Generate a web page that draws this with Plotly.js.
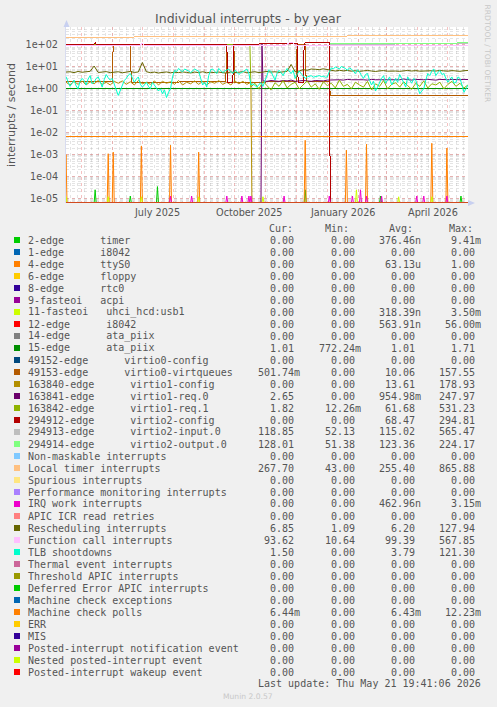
<!DOCTYPE html>
<html><head><meta charset="utf-8">
<script src="https://cdn.plot.ly/plotly-3.0.1.min.js"></script>
<style>html,body{margin:0;padding:0;background:#F0F0F0;} #chart{width:497px;height:707px;}
#chart g[class*="tracecrisp"] path.js-line{shape-rendering:crispEdges;}</style>
</head><body><div id="chart"></div>
<script>
// ---------- axis data ----------
const rangeStart = '2025-04-16';
const rangeEnd = '2026-05-21';
const monthStarts = ['2025-05-01','2025-06-01','2025-07-01','2025-08-01','2025-09-01','2025-10-01','2025-11-01','2025-12-01','2026-01-01','2026-02-01','2026-03-01','2026-04-01','2026-05-01'];
const monthLabelDates = ['2025-07-16','2025-10-16','2026-01-16','2026-04-16'];
const monthLabels = ['July 2025','October 2025','January 2026','April 2026'];
const yTickVals = [1e-5,1e-4,1e-3,1e-2,1e-1,1,10,100];
const yTickText = ['1e-05','1e-04','1e-03','1e-02','1e-01','1e+00','1e+01','1e+02'];

// ---------- legend data ----------
const seriesLabels = ['2-edge      timer','1-edge      i8042','4-edge      ttyS0','6-edge      floppy','8-edge      rtc0','9-fasteoi   acpi','11-fasteoi   uhci_hcd:usb1','12-edge      i8042','14-edge      ata_piix','15-edge      ata_piix','49152-edge      virtio0-config','49153-edge      virtio0-virtqueues','163840-edge      virtio1-config','163841-edge      virtio1-req.0','163842-edge      virtio1-req.1','294912-edge      virtio2-config','294913-edge      virtio2-input.0','294914-edge      virtio2-output.0','Non-maskable interrupts','Local timer interrupts','Spurious interrupts','Performance monitoring interrupts','IRQ work interrupts','APIC ICR read retries','Rescheduling interrupts','Function call interrupts','TLB shootdowns','Thermal event interrupts','Threshold APIC interrupts','Deferred Error APIC interrupts','Machine check exceptions','Machine check polls','ERR','MIS','Posted-interrupt notification event','Nested posted-interrupt event','Posted-interrupt wakeup event'];
const seriesColors = ['#00CC00','#0066B3','#FF8000','#FFCC00','#330099','#990099','#CCFF00','#FF0000','#808080','#008F00','#00487D','#B35A00','#B38F00','#6B006B','#8FB300','#B30000','#BEBEBE','#80FF80','#80C9FF','#FFC080','#FFE680','#AA80FF','#EE00CC','#FF8080','#666600','#FFBFFF','#00FFCC','#CC6699','#999900','#00CC00','#0066B3','#FF8000','#FFCC00','#330099','#990099','#CCFF00','#FF0000'];
const curVals = ['0.00','0.00','0.00','0.00','0.00','0.00','0.00','0.00','0.00','1.01','0.00','501.74m','0.00','2.65','1.82','0.00','118.85','128.01','0.00','267.70','0.00','0.00','0.00','0.00','6.85','93.62','1.50','0.00','0.00','0.00','0.00','6.44m','0.00','0.00','0.00','0.00','0.00'];
const minVals = ['0.00','0.00','0.00','0.00','0.00','0.00','0.00','0.00','0.00','772.24m','0.00','0.00','0.00','0.00','12.26m','0.00','52.13','51.38','0.00','43.00','0.00','0.00','0.00','0.00','1.09','10.64','0.00','0.00','0.00','0.00','0.00','0.00','0.00','0.00','0.00','0.00','0.00'];
const avgVals = ['376.46n','0.00','63.13u','0.00','0.00','0.00','318.39n','563.91n','0.00','1.01','0.00','10.06','13.61','954.98m','61.68','68.47','115.02','123.36','0.00','255.40','0.00','0.00','462.96n','0.00','6.20','99.39','3.79','0.00','0.00','0.00','0.00','6.43m','0.00','0.00','0.00','0.00','0.00'];
const maxVals = ['9.41m','0.00','1.00','0.00','0.00','0.00','3.50m','56.00m','0.00','1.71','0.00','157.55','178.93','247.97','531.23','294.81','565.47','224.17','0.00','865.88','0.00','0.00','3.15m','0.00','127.94','567.85','121.30','0.00','0.00','0.00','0.00','12.23m','0.00','0.00','0.00','0.00','0.00'];

// ---------- series data (interrupts / second) ----------
const timerSpikeDates = ['2025-05-15','2025-06-19','2025-07-16','2025-12-10','2026-02-23','2026-05-14'];
const timerSpikeVals  = [2.5e-5,1.3e-5,3.5e-5,2.5e-5,1.3e-5,1.3e-5];
const ttySpikeDates = ['2025-04-16','2025-05-28','2025-06-02','2025-06-30','2025-07-29','2025-08-26','2025-12-10','2026-01-20','2026-02-09','2026-04-15','2026-04-30'];
const ttySpikeVals  = [1.0e-3,1.1e-3,1.3e-3,2.5e-3,2.7e-3,1.3e-3,4.5e-3,1.6e-3,3.0e-3,3.3e-3,2.0e-3];
const usbSpikeDates = ['2025-04-16','2025-05-28','2025-06-30','2025-08-26','2025-10-29','2026-01-30','2026-03-13','2026-04-15'];
const usbSpikeVals  = [1.2e-5,1.2e-5,1.2e-5,1.2e-5,1.2e-5,2.5e-5,1.2e-5,1.2e-5];
const iwiSpikeDates = ['2025-07-29','2025-08-19','2025-09-23','2025-10-08','2025-10-15','2025-10-17','2025-11-19','2026-01-03','2026-01-26','2026-02-03','2026-02-09','2026-02-24','2026-03-31','2026-04-07','2026-04-30'];
const iwiSpikeVals  = [1.3e-5,1.3e-5,1.3e-5,1.3e-5,1.3e-5,1.3e-5,1.3e-5,1.3e-5,1.3e-5,2.5e-5,1.3e-5,1.3e-5,1.3e-5,1.3e-5,1.3e-5];

const ataDates = ['2025-04-16','2026-05-21'];
const ataVals  = [1.0,1.01];
const virtqDates = ['2025-04-16','2025-06-01','2025-06-02','2025-06-19','2025-06-20','2025-09-22','2025-09-23','2025-09-30','2025-10-01','2025-12-01','2025-12-02','2025-12-10','2025-12-11','2026-01-03','2026-01-04','2026-05-21'];
const virtqVals  = [2.1,2.1,110,110,2.0,2.1,110,110,2.0,2.1,110,110,2.1,2.1,0.5,0.5];
const v1ConfigStart = '2025-04-16';
const v1ConfigVals = [2.0,1.5,2.2,1.6,2.3,1.5,2.1,1.7,2.4,1.6,2.0,1.5,2.2,1.8,2.3,1.6,2.1,1.5,2.4,1.7,2.0,1.6,2.3,1.5,2.2,1.8,2.1,1.6,2.4,1.5,2.0,1.7,2.3,1.6,2.2,1.5,2.1,1.8,2.4,1.6,2.0,1.5,2.3,1.7,2.2,1.6,2.0];
const v1ConfigEndDates = ['2025-10-18','2026-05-21'];
const v1ConfigEndVals = [0,0];
const v1Req0HeadDates = ['2025-04-16','2025-10-27','2025-10-28'];
const v1Req0HeadVals = [0,0,110];
const v1Req0TailStart = '2025-10-29';
const v1Req0TailVals = [2.3,2.2,2.4,2.3,2.2,2.4,2.3,2.5,2.2,2.3,2.4,2.3,2.2,2.4,2.3,2.3,2.5,2.6,2.7,2.6,2.5,2.7,2.6,2.6,2.8,2.6,2.5,2.7,2.6,2.6,2.7,2.5,2.6,2.7,2.6,2.8,2.6,2.5,2.7,2.6,2.6,2.7,2.6,2.5,2.7,2.6,2.6,2.7,2.6,2.6,2.7,2.65];
const v1Req1HeadDates = ['2025-04-16','2025-10-16'];
const v1Req1HeadVals = [105,105];
const v1Req1TailStart = '2025-10-17';
const v1Req1TailVals = [1.2,1.8,1.0,2.2,1.4,0.9,1.9,1.3,2.4,1.1,1.6,2.0,1.0,1.5,2.3,1.2,1.7,0.95,2.1,1.4,1.8,1.1,2.5,1.3,1.6,1.0,2.0,1.5,1.2,2.2,0.9,1.7,1.3,2.4,1.0,1.6,1.9,1.2,2.1,1.4,0.95,1.8,1.3,2.3,1.1,1.7,1.5,2.0,1.0,1.6,2.2,1.3,1.8,1.1,1.5];
const v2ConfigDates = ['2025-04-16','2025-05-14','2025-05-15','2025-05-16','2025-09-23','2025-09-24','2025-09-29','2025-09-30','2025-12-02','2025-12-03','2025-12-08','2025-12-09','2025-12-12','2026-01-03','2026-01-04','2026-05-21'];
const v2ConfigVals  = [108,110,130,110,110,2,2,110,112,2,2,120,128,128,0,0];
const v2InputDates = ['2026-01-04','2026-03-01','2026-05-21'];
const v2InputVals  = [108,112,114];
const v2OutputDates = ['2026-01-04','2026-03-01','2026-03-08','2026-05-21'];
const v2OutputVals  = [112,114,122,124];
const locDates = ['2025-04-16','2025-06-29','2025-07-01','2025-07-03','2025-08-07','2025-08-10','2025-09-29','2025-10-01','2026-01-04','2026-05-21'];
const locVals  = [225,225,240,226,228,238,240,250,258,264];
const calDates = ['2025-04-16','2025-06-29','2025-07-01','2025-07-03','2025-11-21','2025-11-24','2025-11-28','2025-11-30','2026-01-03','2026-01-04','2026-05-21'];
const calVals  = [98,98,120,98,98,125,124,98,98,92,93];
const mcpDates = ['2025-04-16','2026-05-21'];
const mcpVals  = [0.0064,0.0064];
const zeroDates = ['2025-04-16','2026-05-21'];
const zeroVals  = [0,0];

const resStep = 4;
const resVals = [5.8,6.0,5.5,6.2,5.7,5.9,6.3,11,5.6,5.8,6.1,5.5,5.7,6.0,5.4,5.8,6.2,5.6,5.9,16,
 6.0,5.5,5.8,5.3,5.6,5.9,5.4,5.7,5.5,5.9,5.6,5.3,5.8,5.5,6.0,5.4,5.7,5.5,5.8,5.6,5.2,5.9,5.5,5.7,6.1,5.4,5.8,6.0,5.5,5.7,6.2,5.8,6.0,5.6,5.9,6.3,
 13,6.0,6.5,7.5,7.0,8.0,7.8,7.5,8.2,7.6,
 6.8,6.5,7.0,6.6,6.9,6.4,6.7,6.3,6.6,6.9,6.5,6.2,6.6,6.8,6.4,6.7,6.5,6.3,6.6,6.9,6.5,6.8,6.4,6.6,7.0,6.7,6.5,6.9,6.6,6.4,6.8,6.6,6.3,6.7,6.9];
const tlbStep = 2;
const tlbVals = [3.6,2.0,1.3,1.8,2.5,1.4,1.0,2.2,3.0,2.4,1.5,2.8,4.0,1.7,2.0,3.0,3.5,2.2,1.2,2.6,
 4.5,3.2,2.5,3.0,1.8,0.9,0.5,0.8,1.5,2.4,3.0,4.2,5.0,3.0,2.0,2.8,3.5,1.6,1.2,1.5,
 2.0,1.3,1.0,2.0,1.5,1.1,0.8,1.0,0.6,0.9,0.4,0.7,1.0,3.5,7.0,6.0,8.5,7.0,6.0,8.0,
 7.5,6.5,5.5,7.0,8.0,7.0,6.5,3.0,1.5,2.0,1.2,4.0,7.5,8.0,6.0,5.0,8.5,7.0,5.5,6.5,
 7.0,8.0,6.0,5.0,7.0,6.0,4.5,5.5,6.0,7.0,8.0,5.0,1.5,1.7,1.4,1.2,1.6,1.9,1.3,2.5,
 4.0,7.5,6.0,4.0,2.5,5.0,7.0,5.5,4.0,6.0,8.5,6.5,5.0,7.0,3.0,4.5,6.5,5.0,4.0,3.0,
 3.5,3.8,4.0,3.4,3.5,3.9,4.0,3.6,3.8,3.4,3.5,6.0,9.0,8.0,10.0,9.0,8.0,10.5,9.5,8.5,
 7.0,9.0,8.0,6.5,5.0,7.5,6.0,4.0,3.0,4.5,5.0,2.5,1.5,2.2,0.8,1.2,2.0,3.0,4.0,1.8,
 2.5,3.5,1.5,2.0,3.0,2.0,4.5,3.0,2.0,1.2,3.5,2.5,1.8,3.0,2.5,1.2,0.6,0.8,1.0,2.5,
 5.0,4.0,6.5,8.0,4.0,5.5,7.0,4.5,5.0,3.0,2.0,2.8,3.5,1.8,2.0,3.5,3.0,1.5,0.7,1.0,
 1.5];
const noisyStep = 4;

// ---------- builders ----------
function addDays(ds, n){ return new Date(Date.parse(ds+'T00:00:00Z') + n*86400000).toISOString().slice(0,10); }
function regular(start, step, vals){ return {x: vals.map((v,i)=>addDays(start,i*step)), y: vals.slice()}; }
function pairs(dates, vals, crisp){ return {x: dates.slice(), y: vals.slice(), crisp: !!crisp}; }
function spikes(dates, vals){
  const x=[addDays(rangeStart,-3)], y=[0];
  dates.forEach((d,i)=>{ x.push(addDays(d,-1),d,addDays(d,1)); y.push(0,vals[i],0); });
  x.push(rangeEnd); y.push(0);
  return {x,y};
}
function join(){ const r={x:[],y:[]}; for(const s of arguments){ r.x=r.x.concat(s.x); r.y=r.y.concat(s.y);} return r; }
const zero = () => pairs(zeroDates, zeroVals);

const seriesData = [
  spikes(timerSpikeDates, timerSpikeVals),
  zero(),
  spikes(ttySpikeDates, ttySpikeVals),
  zero(), zero(), zero(),
  spikes(usbSpikeDates, usbSpikeVals),
  zero(), zero(),
  pairs(ataDates, ataVals, true),
  zero(),
  pairs(virtqDates, virtqVals, true),
  join(regular(v1ConfigStart, noisyStep, v1ConfigVals), pairs(v1ConfigEndDates, v1ConfigEndVals)),
  join(pairs(v1Req0HeadDates, v1Req0HeadVals), regular(v1Req0TailStart, noisyStep, v1Req0TailVals)),
  join(pairs(v1Req1HeadDates, v1Req1HeadVals), regular(v1Req1TailStart, noisyStep, v1Req1TailVals)),
  pairs(v2ConfigDates, v2ConfigVals, true),
  pairs(v2InputDates, v2InputVals, true),
  pairs(v2OutputDates, v2OutputVals, true),
  zero(),
  pairs(locDates, locVals, true),
  zero(), zero(),
  spikes(iwiSpikeDates, iwiSpikeVals),
  zero(),
  regular(rangeStart, resStep, resVals),
  pairs(calDates, calVals, true),
  regular(rangeStart, tlbStep, tlbVals),
  zero(), zero(), zero(), zero(),
  pairs(mcpDates, mcpVals, true),
  zero(), zero(), zero(), zero(), zero()
];

// ---------- geometry ----------
const W=497, H=707, L=66, R=468, T=27, B=203;
const yMinLog = -5.205, yMaxLog = 2.82;
const FLOOR = Math.pow(10, yMinLog);
const px = x => (x-L)/(R-L);
const py = y => (B-y)/(B-T);

const traces = seriesData.map((s,i)=>({
  type:'scatter', mode:'lines', x:s.x, uid: (s.crisp ? 'crisp' : 'soft') + i,
  y:s.y.map(v => v===null ? null : (v<=0 ? FLOOR : v)),
  line:{color:seriesColors[i], width:1},
  hoverinfo:'skip', showlegend:false, connectgaps:false
}));

const txt = '#555555';
const mono = 'DejaVu Sans Mono';
const annotations = [];
const shapes = [];

monthLabelDates.forEach((d,i)=>annotations.push({xref:'x', yref:'paper', x:d, y:py(212.5), text:monthLabels[i], showarrow:false, xanchor:'center', yanchor:'middle', font:{family:'DejaVu Sans', size:9.7, color:txt}}));
annotations.push({xref:'paper', yref:'paper', x:px(11), y:py(115), text:'interrupts / second', textangle:-90, showarrow:false, xanchor:'center', yanchor:'middle', font:{family:'DejaVu Sans', size:11, color:txt}});
annotations.push({xref:'paper', yref:'paper', x:px(487.5), y:py(54), text:'RRDTOOL / TOBI OETIKER', textangle:90, showarrow:false, xanchor:'center', yanchor:'middle', font:{family:'DejaVu Sans', size:7.6, color:'#C8C8C8'}});
[['Cur:',267],['Min:',323],['Avg:',387],['Max:',447]].forEach(h=>annotations.push({xref:'paper', yref:'paper', x:px(h[1]), y:py(228), text:h[0], showarrow:false, xanchor:'left', yanchor:'middle', font:{family:mono, size:10, color:txt}}));
const colRight = [302, 363, 423, 483];
const cols = [curVals, minVals, avgVals, maxVals];
seriesLabels.forEach((lab,i)=>{
  const yc = 240 + 12*i;
  shapes.push({type:'rect', xref:'paper', yref:'paper', x0:px(14), x1:px(20), y0:py(yc-3), y1:py(yc+3), fillcolor:seriesColors[i], line:{width:0}});
  annotations.push({xref:'paper', yref:'paper', x:px(26), y:py(yc), text:lab.replace(/ /g,'\u00A0'), showarrow:false, xanchor:'left', yanchor:'middle', font:{family:mono, size:10, color:txt}});
  cols.forEach((c,j)=>{
    const s = c[i];
    const hasSuffix = /[a-zA-Z]$/.test(s);
    annotations.push({xref:'paper', yref:'paper', x:px(colRight[j] - (hasSuffix?0:6)), y:py(yc), text:s, showarrow:false, xanchor:'right', yanchor:'middle', font:{family:mono, size:10, color:txt}});
  });
});
annotations.push({xref:'paper', yref:'paper', x:px(483), y:py(683.5), text:'Last update: Thu May 21 19:41:06 2026'.replace(/ /g,'\u00A0'), showarrow:false, xanchor:'right', yanchor:'middle', font:{family:mono, size:10, color:txt}});
annotations.push({xref:'paper', yref:'paper', x:px(248), y:py(696), text:'Munin 2.0.57', showarrow:false, xanchor:'center', yanchor:'middle', font:{family:'DejaVu Sans', size:7.6, color:'#C8C8C8'}});

shapes.push({type:'path', xref:'paper', yref:'paper', path:`M ${px(63.5)} ${py(27)} L ${px(66.5)} ${py(20)} L ${px(69.5)} ${py(27)} Z`, fillcolor:'#C8D0F0', line:{width:0}});
shapes.push({type:'path', xref:'paper', yref:'paper', path:`M ${px(468)} ${py(200)} L ${px(475)} ${py(203)} L ${px(468)} ${py(206)} Z`, fillcolor:'#C8D0F0', line:{width:0}});

const majorGrid = 'rgba(230,100,100,0.40)';
const minorGrid = 'rgba(130,130,130,0.22)';
const layout = {
  width:W, height:H, margin:{l:L, r:W-R, t:T, b:H-B, pad:0},
  paper_bgcolor:'#F0F0F0', plot_bgcolor:'#FFFFFF', showlegend:false,
  font:{family:'DejaVu Sans', size:10, color:txt},
  title:{text:'Individual interrupts - by year', xref:'container', yref:'container', x:248/W, y:1-19/H, xanchor:'center', yanchor:'middle', font:{family:'DejaVu Sans', size:12.5, color:txt}},
  xaxis:{type:'date', range:[rangeStart, rangeEnd], tickmode:'array', tickvals:monthStarts, showticklabels:false, ticks:'',
    showgrid:true, gridcolor:majorGrid, griddash:'dot', gridwidth:1, zeroline:false, showline:false, fixedrange:true,
    minor:{tickmode:'linear', tick0:'2025-04-13', dtick:7*86400000, showgrid:true, gridcolor:minorGrid, griddash:'dot', gridwidth:1, ticks:''}},
  yaxis:{type:'log', range:[yMinLog, yMaxLog], tickmode:'array', tickvals:yTickVals, ticktext:yTickText, ticks:'', ticklabelstandoff:5,
    tickfont:{family:'DejaVu Sans', size:9.7, color:txt},
    showgrid:true, gridcolor:majorGrid, griddash:'dot', gridwidth:1, zeroline:false, showline:true, linecolor:'#D8DCF0', linewidth:1, fixedrange:true,
    minor:{dtick:'D1', showgrid:true, gridcolor:minorGrid, griddash:'dot', gridwidth:1, ticks:''}},
  annotations, shapes
};
Plotly.newPlot('chart', traces, layout, {staticPlot:true, displayModeBar:false});
</script></body></html>
